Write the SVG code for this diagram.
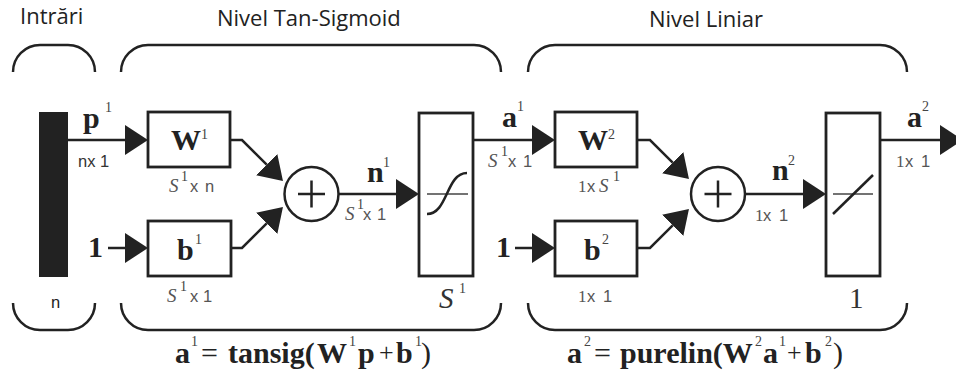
<svg xmlns="http://www.w3.org/2000/svg" width="956" height="380" viewBox="0 0 956 380">
<style>
.box{fill:#fff;stroke:#222;stroke-width:2.8}
.wire{fill:none;stroke:#222;stroke-width:2.5}
.brace{fill:none;stroke:#222;stroke-width:2.5}
.thin{fill:none;stroke:#444;stroke-width:1.5}
.fn{fill:none;stroke:#222;stroke-width:2.5}
.head{font-family:"Open Sans",sans-serif;font-size:22px;fill:#222}
.sym{font-family:"Liberation Serif",serif;font-weight:bold;font-size:30px;fill:#222}
.boxsym{font-family:"Liberation Serif",serif;font-weight:bold;font-size:30px;fill:#222}
.sup{font-family:"Liberation Serif",serif;font-weight:normal;font-style:normal;font-size:14px;fill:#444}
.dim{font-family:"Liberation Sans",sans-serif;font-style:normal;font-size:16.5px;fill:#555}
.dimS{font-family:"Liberation Serif",serif;font-style:italic;font-size:19px;fill:#555}
.dim1{font-family:"Liberation Serif",serif;font-style:normal;font-size:17px;fill:#555}
.big{font-family:"Liberation Serif",serif;font-size:29px;fill:#333}
.eq{font-family:"Liberation Serif",serif;font-weight:bold;font-size:30px;fill:#222}
.eqs{font-family:"Liberation Serif",serif;font-weight:normal;font-size:14px;fill:#444}
.op{font-weight:normal}
.plus{font-weight:normal;font-size:26px}
</style>
<defs>
<marker id="ah" markerUnits="userSpaceOnUse" markerWidth="23" markerHeight="30" viewBox="0 0 23 30" refX="0" refY="15" orient="auto">
<path d="M0,0 L23,15 L0,30 Z" fill="#222"/>
</marker>
</defs>

<g id="headings">
<text class="head" x="20" y="24">Intrări</text>
<text class="head" x="217" y="26">Nivel Tan-Sigmoid</text>
<text class="head" x="649" y="27">Nivel Liniar</text>
</g>

<g id="braces">
<path class="brace" d="M13,72 A27,27 0 0 1 40,45 L68,45 A27,27 0 0 1 95,72"/>
<path class="brace" d="M121,72 A27,27 0 0 1 148,45 L474,45 A27,27 0 0 1 501,72"/>
<path class="brace" d="M528,72 A27,27 0 0 1 555,45 L880,45 A27,27 0 0 1 907,72"/>
<path class="brace" d="M13,303 A27,27 0 0 0 40,330 L68,330 A27,27 0 0 0 95,303"/>
<path class="brace" d="M121,303 A27,27 0 0 0 148,330 L474,330 A27,27 0 0 0 501,303"/>
<path class="brace" d="M528,303 A27,27 0 0 0 555,330 L880,330 A27,27 0 0 0 907,303"/>
</g>

<g id="connectors">
<path class="wire" d="M68,140 L125,140" marker-end="url(#ah)"/>
<path class="wire" d="M108,248 L125,248" marker-end="url(#ah)"/>
<path class="wire" d="M230,140 L242,140 L266.7,164.7" marker-end="url(#ah)"/>
<path class="wire" d="M231,248 L242,248 L266.7,223.3" marker-end="url(#ah)"/>
<path class="wire" d="M339,194 L396,194" marker-end="url(#ah)"/>
<path class="wire" d="M473,140 L532,140" marker-end="url(#ah)"/>
<path class="wire" d="M515,248 L532,248" marker-end="url(#ah)"/>
<path class="wire" d="M637,140 L650,140 L672.7,162.7" marker-end="url(#ah)"/>
<path class="wire" d="M637,248 L650,248 L672.7,225.3" marker-end="url(#ah)"/>
<path class="wire" d="M745,194 L803,194" marker-end="url(#ah)"/>
<path class="wire" d="M880,140 L940,140" marker-end="url(#ah)"/>
</g>

<g id="input">
<rect x="39" y="112" width="29" height="165" fill="#222"/>
<text class="dim" x="51" y="308" style="fill:#222">n</text>
</g>

<g id="labels">
<text class="sym" x="83" y="128">p<tspan class="sup" x="105" y="112">1</tspan></text>
<text class="dim" x="78" y="167" style="fill:#333">nx 1</text>
<text class="sym" x="88" y="257">1</text>
<text class="sym" x="367" y="182">n<tspan class="sup" x="383" y="167">1</tspan></text>
<text class="dimS" x="345" y="220">S<tspan class="sup" x="357" y="209">1</tspan><tspan class="dim" x="363" y="220">x</tspan><tspan class="dim" x="377" y="220">1</tspan></text>
<text class="sym" x="502" y="127">a<tspan class="sup" x="517" y="111">1</tspan></text>
<text class="dimS" x="488" y="167">S<tspan class="sup" x="501" y="156">1</tspan><tspan class="dim" x="508" y="167">x</tspan><tspan class="dim" x="523" y="167">1</tspan></text>
<text class="sym" x="496" y="257">1</text>
<text class="sym" x="772" y="180">n<tspan class="sup" x="788" y="165">2</tspan></text>
<text class="dim1" x="755" y="221">1<tspan class="dim" x="763" y="221">x</tspan><tspan class="dim" x="779" y="221">1</tspan></text>
<text class="sym" x="907" y="127">a<tspan class="sup" x="922" y="111">2</tspan></text>
<text class="dim1" x="896" y="167">1<tspan class="dim" x="905" y="167">x</tspan><tspan class="dim" x="921" y="167">1</tspan></text>
</g>

<g id="W1">
<rect class="box" x="148" y="112" width="82" height="55"/>
<text class="boxsym" x="171" y="150">W<tspan class="sup" x="201" y="139">1</tspan></text>
<text class="dimS" x="169" y="192">S<tspan class="sup" x="181" y="181">1</tspan><tspan class="dim" x="190" y="192">x</tspan><tspan class="dim" x="205" y="192">n</tspan></text>
</g>

<g id="b1">
<rect class="box" x="148" y="221" width="83" height="55"/>
<text class="boxsym" x="177" y="260">b<tspan class="sup" x="195" y="244">1</tspan></text>
<text class="dimS" x="167" y="302">S<tspan class="sup" x="180" y="291">1</tspan><tspan class="dim" x="190" y="302">x</tspan><tspan class="dim" x="203" y="302">1</tspan></text>
</g>

<g id="sum1">
<circle cx="311.5" cy="194" r="27" fill="#fff" stroke="#222" stroke-width="2.5"/>
<path class="fn" d="M298,194 H325 M311.5,180.5 V207.5"/>
</g>

<g id="tansig">
<rect class="box" x="419" y="113" width="54" height="163"/>
<path class="thin" d="M427,194 H468"/>
<path class="fn" d="M427,214 C448,214 446,173 467,173"/>
<text class="big" x="439" y="308" style="font-style:italic">S<tspan class="sup" x="459" y="293">1</tspan></text>
</g>

<g id="W2">
<rect class="box" x="555" y="112" width="82" height="55"/>
<text class="boxsym" x="578" y="150">W<tspan class="sup" x="608" y="139">2</tspan></text>
<text class="dim1" x="578" y="192">1<tspan class="dim" x="587" y="192">x</tspan><tspan class="dimS" x="599" y="192">S</tspan><tspan class="sup" x="613" y="181">1</tspan></text>
</g>

<g id="b2">
<rect class="box" x="555" y="221" width="82" height="55"/>
<text class="boxsym" x="584" y="260">b<tspan class="sup" x="602" y="244">2</tspan></text>
<text class="dim1" x="578" y="302">1<tspan class="dim" x="587" y="302">x</tspan><tspan class="dim" x="603" y="302">1</tspan></text>
</g>

<g id="sum2">
<circle cx="718" cy="194" r="27" fill="#fff" stroke="#222" stroke-width="2.5"/>
<path class="fn" d="M704.5,194 H731.5 M718,180.5 V207.5"/>
</g>

<g id="purelin">
<rect class="box" x="826" y="113" width="54" height="163"/>
<path class="thin" d="M833,194 H873"/>
<path class="fn" d="M833,214 L873,175"/>
<text class="big" x="849" y="308">1</text>
</g>

<g id="equations">
<text class="eq" x="175" y="363">a<tspan class="eqs" x="191" y="346">1</tspan><tspan class="op" x="201" y="363">=</tspan><tspan x="228" y="363">tansig(</tspan><tspan x="317">W</tspan><tspan class="eqs" x="349" y="346">1</tspan><tspan x="358" y="363">p</tspan><tspan class="plus" x="379" y="361">+</tspan><tspan x="396" y="363">b</tspan><tspan class="eqs" x="415" y="346">1</tspan><tspan class="op" x="421" y="363">)</tspan></text>
<text class="eq" x="567" y="363">a<tspan class="eqs" x="584" y="346">2</tspan><tspan class="op" x="594" y="363">=</tspan><tspan x="620" y="363">purelin(W</tspan><tspan class="eqs" x="755" y="346">2</tspan><tspan x="763" y="363">a</tspan><tspan class="eqs" x="779" y="346">1</tspan><tspan class="plus" x="787" y="361">+</tspan><tspan x="805" y="363">b</tspan><tspan class="eqs" x="825" y="346">2</tspan><tspan class="op" x="833" y="363">)</tspan></text>
</g>
</svg>
